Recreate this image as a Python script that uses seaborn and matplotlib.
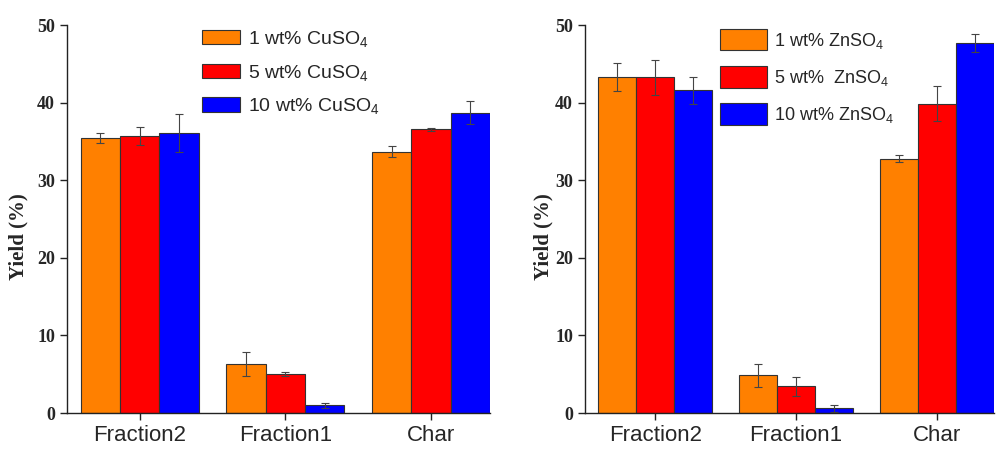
import matplotlib
matplotlib.use("Agg")
import matplotlib.pyplot as plt
import seaborn as sns
import pandas as pd

# categories and values
categories = ["Fraction2", "Fraction1", "Char"]

cu_labels = ["1 wt% CuSO$_4$", "5 wt% CuSO$_4$", "10 wt% CuSO$_4$"]
cu_values = [
    [35.4, 6.3, 33.7],
    [35.7, 5.0, 36.6],
    [36.1, 1.0, 38.7],
]
cu_errors = [
    [0.65, 1.55, 0.75],
    [1.2, 0.25, 0.2],
    [2.4, 0.3, 1.5],
]

zn_labels = ["1 wt% ZnSO$_4$", "5 wt%  ZnSO$_4$", "10 wt% ZnSO$_4$"]
zn_values = [
    [43.3, 4.85, 32.8],
    [43.3, 3.45, 39.9],
    [41.6, 0.6, 47.7],
]
zn_errors = [
    [1.85, 1.5, 0.4],
    [2.25, 1.2, 2.2],
    [1.75, 0.4, 1.2],
]

colors = ["#FF8000", "#FF0000", "#0000FF"]

sns.set_style("ticks")
plt.rcParams["font.family"] = ["Liberation Sans", "DejaVu Sans"]
plt.rcParams["mathtext.fontset"] = "custom"
plt.rcParams["mathtext.rm"] = "Liberation Sans"
plt.rcParams["mathtext.default"] = "regular"


def make_frame(labels, values):
    rows = []
    for lab, vals in zip(labels, values):
        for cat, v in zip(categories, vals):
            rows.append({"cat": cat, "group": lab, "value": v})
    return pd.DataFrame(rows)


def draw_panel(ax, labels, values, errors, leg_pos, leg_font, handle_l,
               handle_h, spacing, label_x):
    df = make_frame(labels, values)
    sns.barplot(data=df, x="cat", y="value", hue="group", order=categories,
                hue_order=labels, palette=colors, errorbar=None, width=0.81,
                edgecolor="#333333", linewidth=0.8, saturation=1, ax=ax)
    for cont, errs in zip(ax.containers, errors):
        xs = [b.get_x() + b.get_width() / 2 for b in cont]
        ys = [b.get_height() for b in cont]
        ax.errorbar(xs, ys, yerr=errs, fmt="none", ecolor="#444444",
                    elinewidth=0.8, capsize=3, capthick=0.8)
    ax.set_xlim(-0.5, 2.405)
    ax.set_ylim(0, 50)
    ax.set_yticks([0, 10, 20, 30, 40, 50])
    ax.set_xlabel("")
    ax.set_ylabel("Yield (%)", family=["Liberation Serif"], fontweight="bold",
                  fontsize=15)
    ax.yaxis.set_label_coords(label_x, 0.456)
    for t in ax.get_yticklabels():
        t.set_family(["Liberation Serif"])
        t.set_fontweight("bold")
        t.set_fontsize(13)
    for t in ax.get_xticklabels():
        t.set_family(["Liberation Sans Narrow", "Liberation Sans"])
        t.set_fontsize(16)
    ax.tick_params(axis="both", direction="out", length=5, width=1, color="#222222")
    for s in ["left", "bottom"]:
        ax.spines[s].set_color("#222222")
        ax.spines[s].set_linewidth(1)
    sns.despine(ax=ax)
    ax.legend(loc="upper left", bbox_to_anchor=leg_pos, frameon=False,
              fontsize=leg_font, handlelength=handle_l, handleheight=handle_h,
              labelspacing=spacing, handletextpad=0.4, borderaxespad=0,
              borderpad=0)


fig = plt.figure(figsize=(9.98, 4.49), dpi=100)
ax1 = fig.add_axes([0.067, 0.080, 0.424, 0.864])
ax2 = fig.add_axes([0.586, 0.080, 0.410, 0.864])

draw_panel(ax1, cu_labels, cu_values, cu_errors, (0.32, 0.99), 14, 1.96,
           0.77, 0.7, -0.09)
draw_panel(ax2, zn_labels, zn_values, zn_errors, (0.33, 0.99), 13, 2.6,
           1.45, 0.85, -0.076)

fig.savefig("out.png", dpi=100)
plt.close(fig)
